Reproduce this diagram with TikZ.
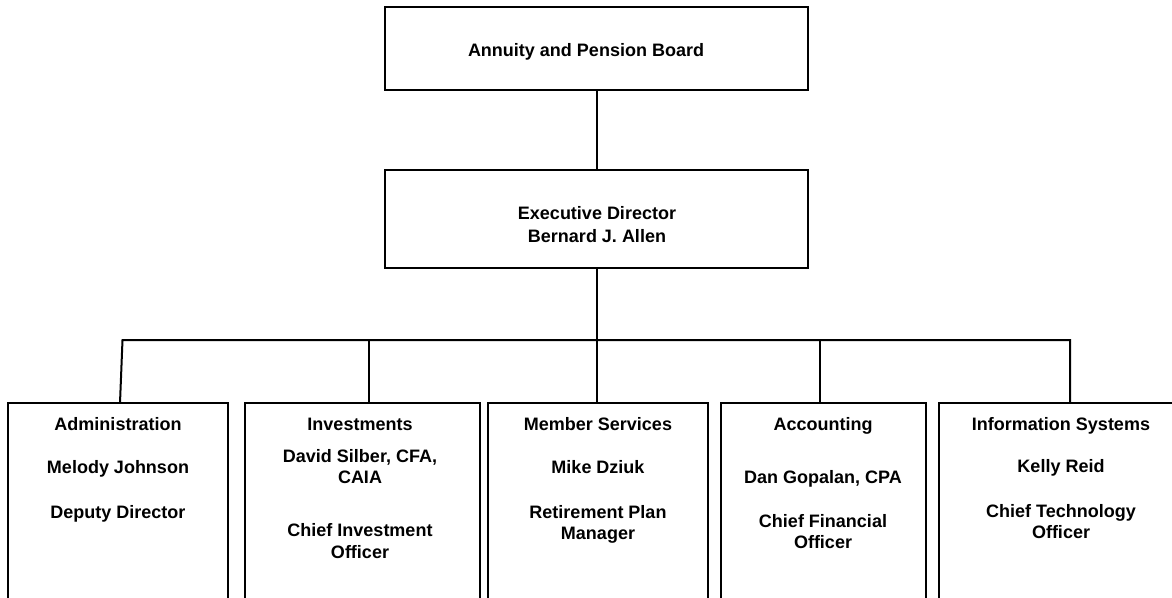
\documentclass[tikz,border=0pt]{standalone}
\usepackage{fontspec}
\setmainfont{Liberation Sans}
\begin{document}
\begin{tikzpicture}[x=1pt,y=-1pt,
  box/.style={draw=black, line width=1.7pt, rectangle, inner sep=0pt, outer sep=0pt},
  unit/.style={box, minimum height=237pt},
  lbl/.style={anchor=base, inner sep=0pt, font=\fontsize{18}{21.6}\selectfont\bfseries},
  conn/.style={draw=black, line width=2pt, line join=miter}]
\path[use as bounding box] (0,0) rectangle (1172,597);
\clip (0,0) rectangle (1172,597);
% top boxes
\node[box, minimum width=423pt, minimum height=83pt] (board) at (596.5,48.5) {};
\node[box, minimum width=423pt, minimum height=98pt] (exec) at (596.5,219) {};
% unit boxes
\node[unit, minimum width=220pt] (adm) at (118,521.5) {};
\node[unit, minimum width=235pt] (inv) at (362.5,521.5) {};
\node[unit, minimum width=220pt] (mem) at (598,521.5) {};
\node[unit, minimum width=205pt] (acc) at (823.5,521.5) {};
\node[unit, minimum width=244pt] (info) at (1061,521.5) {};
% bus coordinates
\coordinate (busL) at (122.5,340);
\coordinate (busR) at (1070,340);
\coordinate (bInv) at (369,340);
\coordinate (bAcc) at (820,340);
% connectors
\draw[conn] (board.south) -- (exec.north);
\draw[conn] (exec.south) -- (exec.south |- mem.north);
\draw[conn] ([xshift=2pt]adm.north) -- (busL) -- (busR) -- (busR |- info.north);
\draw[conn] (bInv) -- (bInv |- inv.north);
\draw[conn] (bAcc) -- (bAcc |- acc.north);
% texts
\node[lbl] (t0) at (586,56) {Annuity and Pension Board};
\node[lbl] (t1) at (597,219) {Executive Director};
\node[lbl] (t2) at (597,242) {Bernard J. Allen};
\node[lbl] (a1) at (118,430) {Administration};
\node[lbl] (a2) at (118,473) {Melody Johnson};
\node[lbl] (a3) at (118,518) {Deputy Director};
\node[lbl] (i1) at (360,430) {Investments};
\node[lbl] (i2) at (360,462) {David Silber, CFA,};
\node[lbl] (i3) at (360,483) {CAIA};
\node[lbl] (i4) at (360,536) {Chief Investment};
\node[lbl] (i5) at (360,558) {Officer};
\node[lbl] (m1) at (598,430) {Member Services};
\node[lbl] (m2) at (598,473) {Mike Dziuk};
\node[lbl] (m3) at (598,518) {Retirement Plan};
\node[lbl] (m4) at (598,539) {Manager};
\node[lbl] (c1) at (823,430) {Accounting};
\node[lbl] (c2) at (823,483) {Dan Gopalan, CPA};
\node[lbl] (c3) at (823,527) {Chief Financial};
\node[lbl] (c4) at (823,548) {Officer};
\node[lbl] (s1) at (1061,430) {Information Systems};
\node[lbl] (s2) at (1061,472) {Kelly Reid};
\node[lbl] (s3) at (1061,517) {Chief Technology};
\node[lbl] (s4) at (1061,538) {Officer};
\end{tikzpicture}
\end{document}
